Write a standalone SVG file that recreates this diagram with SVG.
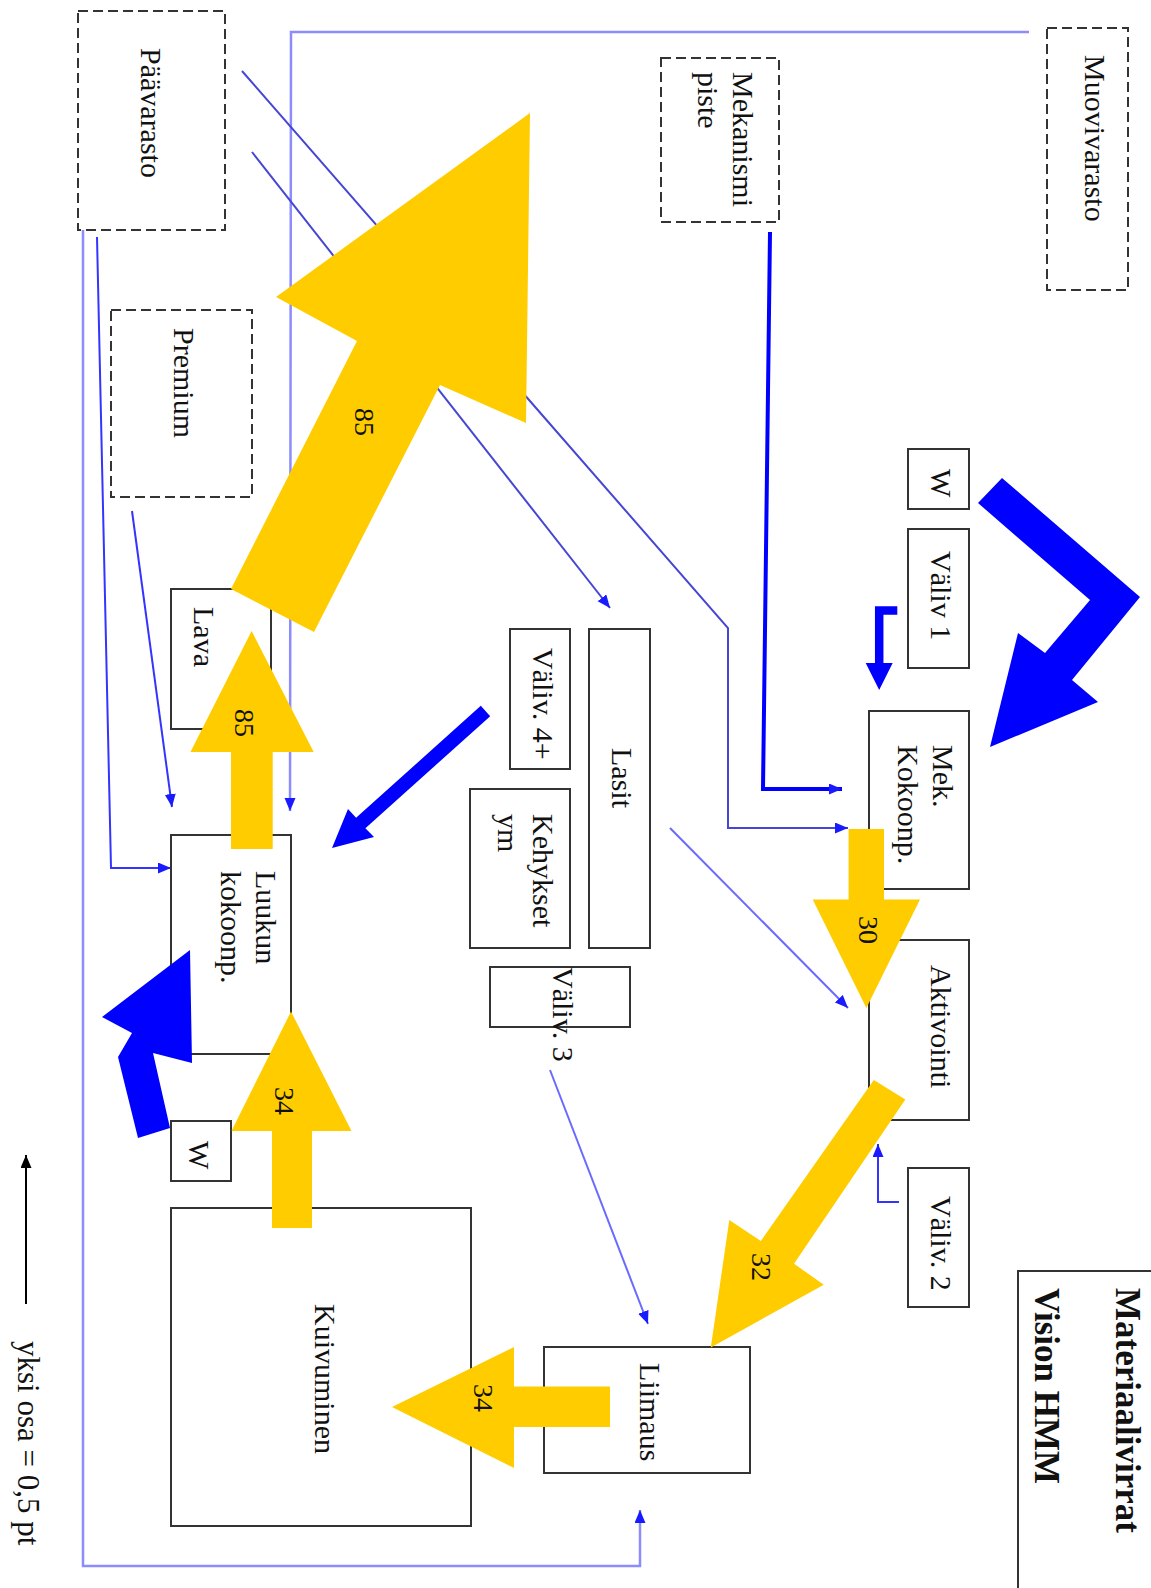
<svg xmlns="http://www.w3.org/2000/svg" width="1151" height="1588" viewBox="0 0 1151 1588">
  <defs>
    <style>
      .box { fill: #fff; stroke: #333; stroke-width: 2; }
      .store { fill: #fff; stroke: #333; stroke-width: 2; stroke-dasharray: 10 5; }
      .lbl { font-family: "Liberation Serif", "Times New Roman", serif; font-size: 30px; fill: #111; }
      .num { font-family: "Liberation Serif", "Times New Roman", serif; font-size: 28px; fill: #111; }
      .title { font-family: "Liberation Serif", "Times New Roman", serif; font-size: 35px; font-weight: bold; fill: #111; }
      .thin { fill: none; stroke-width: 2; }
      .pale { stroke: #8c8cff; stroke-width: 2.5; }
      .mid { stroke: #3434ff; }
      .dark { stroke: #4646d4; }
      .soft { stroke: #6a6aff; }
      .yellow { fill: #ffcc00; }
      .blue { fill: #0000ff; }
    </style>
    <marker id="ah" markerUnits="userSpaceOnUse" markerWidth="14" markerHeight="12" refX="13" refY="5.5" orient="auto">
      <path d="M0,0 L13,5.5 L0,11 z" fill="#1a1aff"/>
    </marker>
    <marker id="ahk" markerUnits="userSpaceOnUse" markerWidth="14" markerHeight="12" refX="13" refY="5.5" orient="auto">
      <path d="M0,0 L13,5.5 L0,11 z" fill="#000"/>
    </marker>
  </defs>

  <rect width="1151" height="1588" fill="#fff"/>

  <!-- thin material-supply lines -->
  <g id="connectors">
    <path class="thin pale" d="M1029,32 H291 L290,811" marker-end="url(#ah)"/>
    <path class="thin pale" d="M83,230 V1566 H640 V1510" marker-end="url(#ah)"/>
    <path class="thin mid" d="M97,237 L111,868 H171" marker-end="url(#ah)"/>
    <path class="thin mid" d="M132,511 L172,807" marker-end="url(#ah)"/>
    <path class="thin dark" d="M242,71 L728,628 V828 H848" marker-end="url(#ah)"/>
    <path class="thin dark" d="M252,152 L610,608" marker-end="url(#ah)"/>
    <path fill="none" stroke="#0000ff" stroke-width="4" d="M770,232 L763,789 H842" marker-end="url(#ah)"/>
    <path class="thin soft" d="M670,828 L848,1008" marker-end="url(#ah)"/>
    <path class="thin soft" d="M550,1070 L648,1324" marker-end="url(#ah)"/>
    <path class="thin mid" d="M899,1202 H878 V1144" marker-end="url(#ah)"/>
  </g>

  <!-- storages (dashed) -->
  <g id="paavarasto">
    <rect class="store" x="78" y="11" width="147" height="219"/>
    <text class="lbl" transform="translate(141 48) rotate(90)">Päävarasto</text>
  </g>
  <g id="premium">
    <rect class="store" x="111" y="310" width="141" height="187"/>
    <text class="lbl" transform="translate(174 328) rotate(90)">Premium</text>
  </g>
  <g id="mekanismipiste">
    <rect class="store" x="661" y="58" width="118" height="164"/>
    <text class="lbl" transform="translate(733 72) rotate(90)">Mekanismi<tspan x="0" dy="35">piste</tspan></text>
  </g>
  <g id="muovivarasto">
    <rect class="store" x="1047" y="28" width="81" height="262"/>
    <text class="lbl" transform="translate(1085 55) rotate(90)">Muovivarasto</text>
  </g>

  <!-- work stations and buffers -->
  <g id="lava">
    <rect class="box" x="171" y="589" width="100" height="140"/>
    <text class="lbl" transform="translate(194 607) rotate(90)">Lava</text>
  </g>
  <g id="luukun">
    <rect class="box" x="171" y="835" width="120" height="219"/>
    <text class="lbl" transform="translate(256 871) rotate(90)">Luukun<tspan x="0" dy="35">kokoonp.</tspan></text>
  </g>
  <g id="w-luukku">
    <rect class="box" x="171" y="1121" width="60" height="60"/>
    <text class="lbl" transform="translate(189 1141) rotate(90)">W</text>
  </g>
  <g id="kuivuminen">
    <rect class="box" x="171" y="1208" width="300" height="318"/>
    <text class="lbl" transform="translate(315 1304) rotate(90)">Kuivuminen</text>
  </g>
  <g id="valiv4">
    <rect class="box" x="510" y="629" width="60" height="140"/>
    <text class="lbl" transform="translate(533 648) rotate(90)">Väliv. 4+</text>
  </g>
  <g id="kehykset">
    <rect class="box" x="470" y="789" width="100" height="159"/>
    <text class="lbl" transform="translate(533 814) rotate(90)">Kehykset<tspan x="0" dy="35">ym</tspan></text>
  </g>
  <g id="valiv3">
    <rect class="box" x="490" y="967" width="140" height="60"/>
    <text class="lbl" transform="translate(553 967) rotate(90)">Väliv. 3</text>
  </g>
  <g id="lasit">
    <rect class="box" x="589" y="629" width="61" height="319"/>
    <text class="lbl" transform="translate(612 748) rotate(90)">Lasit</text>
  </g>
  <g id="w-mek">
    <rect class="box" x="908" y="449" width="61" height="60"/>
    <text class="lbl" transform="translate(931 469) rotate(90)">W</text>
  </g>
  <g id="valiv1">
    <rect class="box" x="908" y="529" width="61" height="139"/>
    <text class="lbl" transform="translate(931 551) rotate(90)">Väliv 1</text>
  </g>
  <g id="mek">
    <rect class="box" x="869" y="711" width="100" height="178"/>
    <text class="lbl" transform="translate(933 745) rotate(90)">Mek.<tspan x="0" dy="35">Kokoonp.</tspan></text>
  </g>
  <g id="aktivointi">
    <rect class="box" x="869" y="940" width="100" height="180"/>
    <text class="lbl" transform="translate(931 965) rotate(90)">Aktivointi</text>
  </g>
  <g id="valiv2">
    <rect class="box" x="908" y="1168" width="61" height="139"/>
    <text class="lbl" transform="translate(931 1196) rotate(90)">Väliv. 2</text>
  </g>
  <g id="liimaus">
    <rect class="box" x="544" y="1347" width="206" height="126"/>
    <text class="lbl" transform="translate(640 1363) rotate(90)">Liimaus</text>
  </g>
  <g id="otsikko">
    <rect class="box" x="1018" y="1271" width="200" height="400"/>
    <text class="title" transform="translate(1116 1288) rotate(90)">Materiaalivirrat</text>
    <text class="title" transform="translate(1035 1288) rotate(90)">Vision HMM</text>
  </g>

  <!-- main flows (yellow) and waste / buffer flows (blue) -->
  <g id="flows">
    <g id="flow-85-varasto">
      <polygon class="yellow" points="231,589 357,341 276,297 530,113 526,423 440,385 314,632"/>
      <text class="num" transform="translate(355 408) rotate(90)">85</text>
    </g>
    <g id="flow-85-lava">
      <polygon class="yellow" points="231,849 231,752 190.5,752 251.6,631 313.7,752 272.7,752 272.7,849"/>
      <text class="num" transform="translate(235 709) rotate(90)">85</text>
    </g>
    <g id="flow-34-luukku">
      <polygon class="yellow" points="272,1228 272,1131 231.5,1131 291,1011.5 351.5,1131 312,1131 312,1228"/>
      <text class="num" transform="translate(275 1087) rotate(90)">34</text>
    </g>
    <g id="flow-34-kuivuminen">
      <polygon class="yellow" points="610,1386.5 514,1386.5 514,1347 392,1407 514,1468 514,1427 610,1427"/>
      <text class="num" transform="translate(474 1384) rotate(90)">34</text>
    </g>
    <g id="flow-30">
      <polygon class="yellow" points="848.6,829 884,829 884,899.6 920,899.6 866.4,1008 812.7,899.6 848.6,899.6"/>
      <text class="num" transform="translate(859 916) rotate(90)">30</text>
    </g>
    <g id="flow-32">
      <polygon class="yellow" points="873.8,1080 905.3,1099.4 794,1263.7 823.8,1284.7 710.8,1347.6 729.3,1220 760.8,1241"/>
      <text class="num" transform="translate(752 1253) rotate(90)">32</text>
    </g>
    <polygon id="flow-w-mek" class="blue" points="1002,478 1140,597 1072,680 1098,702 990,747 1018,633 1045,653 1090,600 978,503"/>
    <g id="flow-valiv1">
      <path d="M897.3,610.5 H879.2 V664" fill="none" stroke="#0000ff" stroke-width="8.5" stroke-linejoin="miter"/>
      <polygon class="blue" points="865.7,663 892.7,663 879.2,690"/>
    </g>
    <polygon id="flow-valiv4" class="blue" points="480.8,705.8 490.2,716.2 365.4,828.2 374,837 332,848 348,809 356.1,817.8"/>
    <polygon id="flow-w-luukku" class="blue" points="138,1138 118,1057 132,1033 102,1017 190,950 192,1063 153,1053 170,1128"/>
  </g>

  <!-- scale legend -->
  <g id="legend">
    <path d="M26,1304 V1155" fill="none" stroke="#000" stroke-width="2" marker-end="url(#ahk)"/>
    <text class="lbl" style="font-size:31px" transform="translate(18 1341) rotate(90)">yksi osa = 0,5 pt</text>
  </g>
</svg>
